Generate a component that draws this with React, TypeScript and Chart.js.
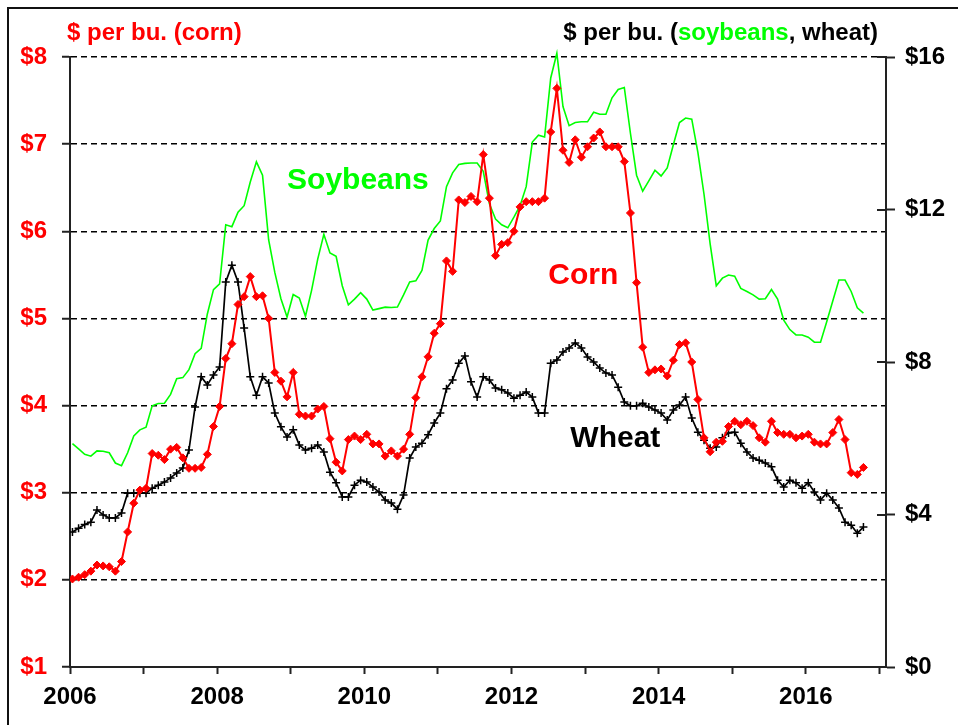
import React, { useEffect, useRef } from 'react';
import { Chart, registerables } from 'chart.js';

Chart.register(...registerables);

const FONT = '"Liberation Sans", Arial, Helvetica, sans-serif';
const RED = '#ff0000';
const GREEN = '#00ff00';
const BLACK = '#000000';
const AXIS = '#222222';

// Monthly series, Jan 2006 .. Oct 2016
const startYear = 2006;

// $ per bushel, left axis
const corn = [
  2.01, 2.03, 2.06, 2.10, 2.17, 2.16, 2.15, 2.10, 2.21, 2.55, 2.88, 3.03,
  3.05, 3.45, 3.43, 3.38, 3.50, 3.52, 3.40, 3.28, 3.28, 3.29, 3.44, 3.76,
  3.99, 4.54, 4.71, 5.16, 5.25, 5.48, 5.25, 5.26, 5.00, 4.38, 4.28, 4.10,
  4.38, 3.90, 3.88, 3.88, 3.96, 3.99, 3.62, 3.35, 3.25, 3.61, 3.65, 3.61,
  3.67, 3.56, 3.56, 3.42, 3.48, 3.42, 3.50, 3.67, 4.09, 4.33, 4.56, 4.83,
  4.94, 5.66, 5.54, 6.36, 6.33, 6.40, 6.34, 6.88, 6.38, 5.72, 5.85, 5.87,
  6.00, 6.28, 6.34, 6.34, 6.34, 6.38, 7.14, 7.64, 6.93, 6.79, 7.05, 6.85,
  6.97, 7.07, 7.14, 6.97, 6.97, 6.97, 6.80, 6.21, 5.41, 4.67, 4.38, 4.41,
  4.42, 4.34, 4.52, 4.70, 4.72, 4.50, 4.07, 3.63, 3.47, 3.58, 3.59, 3.76,
  3.82, 3.78, 3.82, 3.77, 3.63, 3.58, 3.82, 3.69, 3.67, 3.67, 3.63, 3.65,
  3.67, 3.58, 3.56, 3.56, 3.69, 3.84, 3.61, 3.23, 3.21, 3.29,
];

// $ per bushel, right axis
const wheat = [
  3.54, 3.64, 3.74, 3.80, 4.12, 3.99, 3.91, 3.91, 4.04, 4.56, 4.56, 4.56,
  4.56, 4.69, 4.77, 4.85, 4.96, 5.09, 5.22, 5.69, 6.82, 7.61, 7.40, 7.66,
  7.87, 10.10, 10.54, 10.10, 8.89, 7.61, 7.13, 7.61, 7.45, 6.66, 6.30, 6.03,
  6.22, 5.82, 5.69, 5.74, 5.82, 5.64, 5.11, 4.83, 4.46, 4.46, 4.77, 4.90,
  4.85, 4.72, 4.59, 4.38, 4.30, 4.14, 4.51, 5.48, 5.77, 5.87, 6.09, 6.40,
  6.66, 7.30, 7.53, 7.97, 8.16, 7.48, 7.08, 7.61, 7.53, 7.32, 7.27, 7.19,
  7.05, 7.13, 7.21, 7.08, 6.66, 6.66, 7.97, 8.05, 8.26, 8.37, 8.50, 8.37,
  8.13, 8.00, 7.84, 7.71, 7.66, 7.34, 6.95, 6.85, 6.85, 6.92, 6.82, 6.74,
  6.66, 6.48, 6.74, 6.87, 7.08, 6.53, 6.16, 5.95, 5.74, 5.77, 6.01, 6.14,
  6.16, 5.87, 5.64, 5.48, 5.42, 5.35, 5.25, 4.90, 4.72, 4.90, 4.83, 4.69,
  4.83, 4.59, 4.38, 4.56, 4.38, 4.17, 3.80, 3.72, 3.51, 3.67,
];

// $ per bushel, right axis
const soybeans = [
  5.86, 5.72, 5.58, 5.53, 5.67, 5.66, 5.62, 5.35, 5.28, 5.62, 6.06, 6.22,
  6.29, 6.85, 6.91, 6.92, 7.15, 7.56, 7.59, 7.80, 8.22, 8.36, 9.26, 9.90,
  10.05, 11.60, 11.55, 11.93, 12.10, 12.72, 13.25, 12.90, 11.20, 10.35, 9.66, 9.18,
  9.77, 9.68, 9.20, 9.88, 10.70, 11.35, 10.86, 10.77, 10.00, 9.50, 9.65, 9.82,
  9.65, 9.36, 9.40, 9.44, 9.43, 9.44, 9.76, 10.10, 10.13, 10.40, 11.20, 11.50,
  11.70, 12.60, 12.96, 13.18, 13.21, 13.22, 13.22, 13.00, 12.15, 11.75, 11.60, 11.52,
  11.80, 12.10, 12.60, 13.77, 13.95, 13.90, 15.45, 16.10, 14.70, 14.20, 14.28, 14.30,
  14.30, 14.55, 14.50, 14.50, 14.93, 15.15, 15.20, 14.00, 12.90, 12.48, 12.75, 13.03,
  12.88, 13.09, 13.70, 14.28, 14.40, 14.37, 13.50, 12.40, 11.10, 10.00, 10.20, 10.28,
  10.25, 9.93, 9.85, 9.76, 9.65, 9.66, 9.90, 9.65, 9.10, 8.85, 8.71, 8.71,
  8.65, 8.52, 8.52, 9.05, 9.60, 10.15, 10.15, 9.85, 9.42, 9.28,
];

// month positions (fractional years), points plotted slightly inside each month
const monthPos = corn.map((_, i) => startYear + (i + 0.4) / 12);

const xMin = 2006;
const xMax = 2017.09;
const leftMin = 1;
const leftMax = 8;
const rightMin = 0;
const rightMax = 16;

const leftTitle = '$ per bu. (corn)';
const rightTitleParts = [
  { text: '$ per bu. (', color: BLACK },
  { text: 'soybeans', color: GREEN },
  { text: ', wheat)', color: BLACK },
];

const seriesLabels = ['Soybeans', 'Corn', 'Wheat'];
const seriesLabelColors = [GREEN, RED, BLACK];
const seriesLabelX = [2008.95, 2012.5, 2012.8];
const seriesLabelY = [6.49, 5.4, 3.52]; // left-axis units (baseline)

const toPoints = (vals: number[]) => vals.map((v, i) => ({ x: monthPos[i], y: v }));

const overlayPlugin = {
  id: 'overlay',
  afterDraw(chart: any) {
    const { ctx, chartArea, scales } = chart;
    const yR = scales.yR;
    const yL = scales.yL;
    const x = scales.x;
    ctx.save();
    // inward tick marks on right axis
    ctx.strokeStyle = AXIS;
    ctx.lineWidth = 2;
    yR.ticks.forEach((t: any) => {
      const py = Math.round(yR.getPixelForValue(t.value));
      ctx.beginPath();
      ctx.moveTo(chartArea.right - 9, py);
      ctx.lineTo(chartArea.right, py);
      ctx.stroke();
    });

    // axis titles
    ctx.font = `bold 24px ${FONT}`;
    ctx.textBaseline = 'alphabetic';
    ctx.textAlign = 'left';
    ctx.fillStyle = RED;
    ctx.fillText(leftTitle, chartArea.left - 3, chartArea.top - 17);

    const total = rightTitleParts.reduce((s, p) => s + ctx.measureText(p.text).width, 0);
    let cx = chartArea.right - 8 - total;
    rightTitleParts.forEach((p) => {
      ctx.fillStyle = p.color;
      ctx.fillText(p.text, cx, chartArea.top - 17);
      cx += ctx.measureText(p.text).width;
    });

    // series labels
    ctx.font = `bold 30px ${FONT}`;
    seriesLabels.forEach((s, k) => {
      ctx.fillStyle = seriesLabelColors[k];
      ctx.fillText(s, x.getPixelForValue(seriesLabelX[k]), yL.getPixelForValue(seriesLabelY[k]));
    });
    ctx.restore();
  },
};

export default function App() {
  const ref = useRef<HTMLCanvasElement | null>(null);

  useEffect(() => {
    if (!ref.current) return;
    Chart.defaults.font.family = FONT;
    const chart = new Chart(ref.current, {
      type: 'line',
      data: {
        datasets: [
          {
            label: 'Corn',
            data: toPoints(corn),
            yAxisID: 'yL',
            borderColor: RED,
            backgroundColor: RED,
            borderWidth: 2,
            pointStyle: 'rectRot',
            pointRadius: 4,
            pointBackgroundColor: RED,
            pointBorderColor: RED,
            pointBorderWidth: 1,
            tension: 0,
          },
          {
            label: 'Wheat',
            data: toPoints(wheat),
            yAxisID: 'yR',
            borderColor: BLACK,
            backgroundColor: BLACK,
            borderWidth: 1.7,
            pointStyle: 'cross',
            pointRadius: 4,
            pointBorderColor: BLACK,
            pointBorderWidth: 1.5,
            tension: 0,
          },
          {
            label: 'Soybeans',
            data: toPoints(soybeans),
            yAxisID: 'yR',
            borderColor: GREEN,
            backgroundColor: GREEN,
            borderWidth: 1.6,
            pointRadius: 0,
            tension: 0,
            clip: false as any,
          },
        ],
      },
      options: {
        animation: false,
        responsive: false,
        maintainAspectRatio: false,
        layout: { padding: { top: 57, left: 0, right: 0, bottom: 0 } },
        plugins: {
          legend: { display: false },
          tooltip: { enabled: false },
        },
        scales: {
          x: {
            type: 'linear',
            min: xMin,
            max: xMax,
            afterFit: (s: any) => { s.height = 58; },
            ticks: {
              stepSize: 1,
              includeBounds: false,
              autoSkip: false,
              maxRotation: 0,
              minRotation: 0,
              padding: 9,
              color: BLACK,
              font: { size: 24, weight: 'bold', family: FONT },
              callback: (v: any) => (Number(v) % 2 === 0 ? String(v) : ''),
            },
            grid: {
              drawOnChartArea: false,
              drawTicks: true,
              tickLength: 7,
              tickColor: AXIS,
              tickWidth: 2,
            },
            border: { color: AXIS, width: 2 },
          },
          yL: {
            type: 'linear',
            position: 'left',
            min: leftMin,
            max: leftMax,
            afterFit: (s: any) => { s.width = 70; },
            ticks: {
              stepSize: 1,
              padding: 15,
              color: RED,
              font: { size: 24, weight: 'bold', family: FONT },
              callback: (v: any) => '$' + v,
            },
            grid: {
              color: BLACK,
              lineWidth: 1.5,
              drawTicks: true,
              tickLength: 8,
              tickColor: AXIS,
              tickWidth: 2,
            },
            border: { color: AXIS, width: 2, dash: [6, 4] },
          },
          yR: {
            type: 'linear',
            position: 'right',
            min: rightMin,
            max: rightMax,
            afterFit: (s: any) => { s.width = 72; },
            ticks: {
              stepSize: 4,
              padding: 10,
              color: BLACK,
              font: { size: 24, weight: 'bold', family: FONT },
              callback: (v: any) => '$' + v,
            },
            grid: {
              drawOnChartArea: false,
              drawTicks: true,
              tickLength: 9,
              tickColor: AXIS,
              tickWidth: 2,
            },
            border: { color: AXIS, width: 2 },
          },
        },
      } as any,
      plugins: [overlayPlugin],
    });
    return () => chart.destroy();
  }, []);

  return (
    <div style={{ position: 'fixed', left: 0, top: 0, width: 958, height: 725, overflow: 'hidden', background: '#fff' }}>
      <canvas ref={ref} width={958} height={725} style={{ position: 'absolute', left: 0, top: 0, width: 958, height: 725 }} />
      <div
        style={{
          position: 'absolute', left: 7, top: 7, width: 1000, height: 1000,
          borderTop: '2px solid #111', borderLeft: '2px solid #111', pointerEvents: 'none',
        }}
      />
    </div>
  );
}
